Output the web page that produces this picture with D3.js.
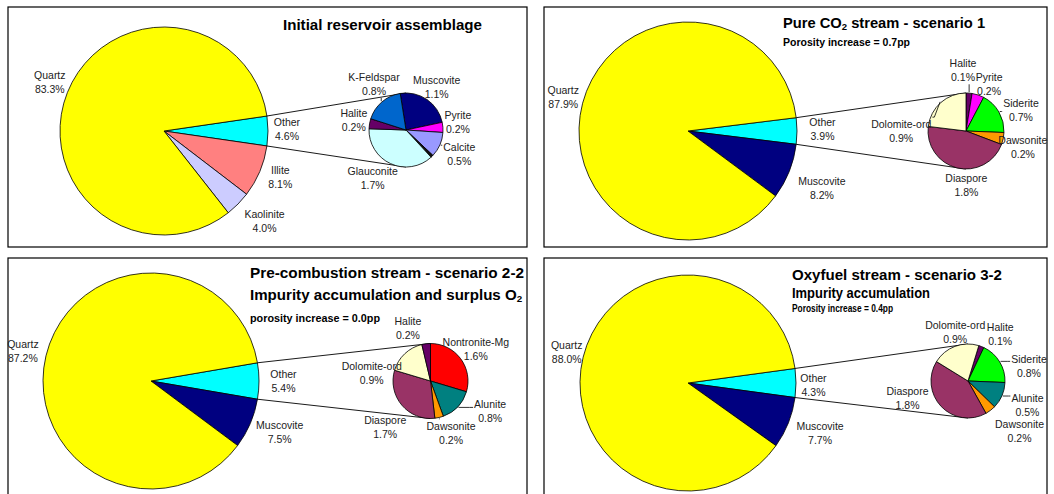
<!DOCTYPE html>
<html>
<head>
<meta charset="utf-8">
<script src="https://cdn.jsdelivr.net/npm/d3@7"></script>
<style>
  body { margin: 0; background: #fff; }
  svg { display: block; font-family: Arial, "Liberation Sans", sans-serif; }
</style>
</head>
<body>
<svg id="chart" width="1054" height="494"></svg>
<script>
// ---- data (percent of rock volume) ----
var initialMainNames = ['Other', 'Illite', 'Kaolinite', 'Quartz']
var initialMainValues = [4.6, 8.1, 4.0, 83.3]
var initialOtherNames = ['Muscovite', 'Pyrite', 'Calcite', '', 'Glauconite', 'Halite', 'K-Feldspar']
var initialOtherValues = [1.1, 0.2, 0.5, 0.05, 1.7, 0.2, 0.8]

var pureMainNames = ['Other', 'Muscovite', 'Quartz']
var pureMainValues = [3.9, 8.2, 87.9]
var pureOtherNames = ['Halite', 'Pyrite', 'Siderite', 'Dawsonite', 'Diaspore', 'Dolomite-ord']
var pureOtherValues = [0.1, 0.2, 0.7, 0.2, 1.8, 0.9]

var precombMainNames = ['Other', 'Muscovite', 'Quartz']
var precombMainValues = [5.4, 7.5, 87.2]
var precombOtherNames = ['Nontronite-Mg', 'Alunite', 'Dawsonite', 'Diaspore', 'Dolomite-ord', 'Halite']
var precombOtherValues = [1.6, 0.8, 0.2, 1.7, 0.9, 0.2]

var oxyMainNames = ['Other', 'Muscovite', 'Quartz']
var oxyMainValues = [4.3, 7.7, 88.0]
var oxyOtherNames = ['Halite', 'Siderite', 'Alunite', 'Dawsonite', 'Diaspore', 'Dolomite-ord']
var oxyOtherValues = [0.1, 0.8, 0.5, 0.2, 1.8, 0.9]

// ---- styles ----
var colors = {
  'Quartz': '#ffff00', 'Other': '#00ffff', 'Illite': '#ff8080', 'Kaolinite': '#ccccff',
  'Muscovite': '#000080', 'Pyrite': '#ff00ff', 'Calcite': '#9999ff', 'Glauconite': '#ccffff',
  'Halite': '#660066', 'K-Feldspar': '#0066cc', 'Siderite': '#00ff00', 'Dawsonite': '#ff9900',
  'Diaspore': '#993366', 'Dolomite-ord': '#ffffcc', 'Nontronite-Mg': '#ff0000', 'Alunite': '#008080',
  '': '#111111'
}

// ---- layout ----
var panels = [
  {
    box: [8, 7, 519, 240],
    main: {names: initialMainNames, values: initialMainValues, cx: 164, cy: 131, r: 104},
    sub: {names: initialOtherNames, values: initialOtherValues, cx: 406, cy: 130, r: 37, start: 351},
    titles: [{parts: ['Initial reservoir assemblage'], x: 283, y: 30, size: 15, len: 199}],
    nudge: {Quartz: [0, -3], Other: [0, -1.5], Illite: [3, -2], Kaolinite: [13, 3.5],
            Muscovite: [-1, 3], Pyrite: [-4, -4], Calcite: [2, 2], Glauconite: [-10, -3],
            Halite: [3, 0], 'K-Feldspar': [4.5, -3.5]},
    leaders: ['K-Feldspar', 'Calcite']
  },
  {
    box: [544, 7, 503, 240],
    main: {names: pureMainNames, values: pureMainValues, cx: 688, cy: 131, r: 109},
    sub: {names: pureOtherNames, values: pureOtherValues, cx: 966, cy: 131, r: 38, start: 0},
    titles: [
      {parts: ['Pure CO', '2', ' stream - scenario 1'], x: 783, y: 28, size: 14.7},
      {parts: ['Porosity increase = 0.7pp'], x: 783, y: 46, size: 10.5, len: 127}
    ],
    nudge: {Quartz: [-1, -1], Other: [6.5, -1.5], Muscovite: [15, 9.5],
            Halite: [-7.6, -3.7], Pyrite: [5, 7], Siderite: [5.6, 8], Dawsonite: [1, 5],
            Diaspore: [14, -1], 'Dolomite-ord': [-27, 43]},
    leaders: ['Halite', 'Dolomite-ord', 'Siderite']
  },
  {
    box: [8, 258, 519, 260],
    main: {names: precombMainNames, values: precombMainValues, cx: 151, cy: 381, r: 108},
    sub: {names: precombOtherNames, values: precombOtherValues, cx: 430.5, cy: 381, r: 37.5, start: 0},
    titles: [
      {parts: ['Pre-combustion stream - scenario 2-2'], x: 250, y: 278, size: 15.5, len: 274},
      {parts: ['Impurity accumulation and surplus O', '2'], x: 250, y: 300, size: 15.1},
      {parts: ['porosity increase = 0.0pp'], x: 250, y: 322, size: 10.5, len: 130}
    ],
    nudge: {Quartz: [-4.6, 0], Other: [5.5, 0.5], Muscovite: [12, 1],
            'Nontronite-Mg': [0, 2], Alunite: [18.5, -9], Dawsonite: [7.5, -2.5],
            Diaspore: [-2, 10], 'Dolomite-ord': [-20, 33.5], Halite: [-16, 3.5]},
    leaders: ['Alunite', 'Dawsonite']
  },
  {
    box: [544, 258, 503, 260],
    main: {names: oxyMainNames, values: oxyMainValues, cx: 688, cy: 383, r: 108},
    sub: {names: oxyOtherNames, values: oxyOtherValues, cx: 968, cy: 381, r: 37, start: 17},
    titles: [
      {parts: ['Oxyfuel stream - scenario 3-2'], x: 792, y: 280, size: 15, len: 210},
      {parts: ['Impurity accumulation'], x: 792, y: 298, size: 15, len: 138},
      {parts: ['Porosity increase = 0.4pp'], x: 792, y: 312, size: 10.5, len: 101}
    ],
    nudge: {Quartz: [2, 0], Other: [-1.5, 2], Muscovite: [14, 3],
            Halite: [12, 5], Siderite: [13, 14.5], Alunite: [8, 2], Dawsonite: [17.5, 6],
            Diaspore: [-20, -21.5], 'Dolomite-ord': [7, 3.5]},
    leaders: ['Siderite', 'Alunite']
  }
]

var svg = d3.select('#chart')
var fmt = d => d3.format('.1f')(d) + '%'
var rad = Math.PI / 180
var labelGap = 19

function pieArcs(spec, startAngle){
  var pie = d3.pie().sort(null).value(d => d.value)
    .startAngle(startAngle).endAngle(startAngle + 2 * Math.PI)
  return pie(spec.names.map((n, i) => ({name: n, value: spec.values[i]})))
}

function drawPie(g, spec, arcs, p){
  var arc = d3.arc().innerRadius(0).outerRadius(spec.r)
  var pg = g.append('g').attr('transform', `translate(${spec.cx},${spec.cy})`)
  pg.selectAll('path').data(arcs).join('path')
    .attr('d', arc)
    .attr('fill', d => colors[d.data.name])
    .attr('stroke', '#000')
    .attr('stroke-width', 0.8)

  arcs.filter(d => d.data.name).forEach(d => {
    var mid = (d.startAngle + d.endAngle) / 2
    var R = spec.r + labelGap
    var nd = p.nudge[d.data.name] || [0, 0]
    var lx = R * Math.sin(mid) + nd[0]
    var ly = -R * Math.cos(mid) + nd[1]
    var t = pg.append('text')
      .attr('text-anchor', 'middle')
      .attr('font-size', 10.5)
      .attr('fill', '#222')
    t.append('tspan').attr('x', lx).attr('y', ly - 3.2).text(d.data.name)
    t.append('tspan').attr('x', lx).attr('y', ly + 10.8).text(fmt(d.data.value))

    if (p.leaders.indexOf(d.data.name) > -1){
      var bb = t.node().getBBox()
      var ex = (spec.r + 1) * Math.sin(mid), ey = -(spec.r + 1) * Math.cos(mid)
      var qx = Math.max(bb.x - 1, Math.min(ex, bb.x + bb.width + 1))
      var qy = Math.max(bb.y - 1, Math.min(ey, bb.y + bb.height + 1))
      pg.append('path')
        .attr('d', `M${qx},${qy}L${qx + (ex - qx) * 0.25},${qy}L${ex},${ey}`)
        .attr('fill', 'none').attr('stroke', '#000').attr('stroke-width', 0.8)
    }
  })
}

panels.forEach(p => {
  var g = svg.append('g')
  g.append('rect')
    .attr('x', p.box[0]).attr('y', p.box[1])
    .attr('width', p.box[2]).attr('height', p.box[3])
    .attr('fill', '#fff').attr('stroke', '#000').attr('stroke-width', 1.2)

  // Other slice centered at 3 o'clock
  var total = d3.sum(p.main.values)
  var otherFrac = p.main.values[0] / total
  var mainArcs = pieArcs(p.main, Math.PI / 2 - otherFrac * Math.PI)
  var subArcs = pieArcs(p.sub, p.sub.start * rad)

  // connector lines from Other slice to secondary pie (drawn underneath)
  var o = mainArcs[0], m = p.main, s = p.sub
  g.append('line')
    .attr('x1', m.cx + m.r * Math.sin(o.startAngle)).attr('y1', m.cy - m.r * Math.cos(o.startAngle))
    .attr('x2', s.cx).attr('y2', s.cy - s.r)
    .attr('stroke', '#000').attr('stroke-width', 0.9)
  g.append('line')
    .attr('x1', m.cx + m.r * Math.sin(o.endAngle)).attr('y1', m.cy - m.r * Math.cos(o.endAngle))
    .attr('x2', s.cx).attr('y2', s.cy + s.r)
    .attr('stroke', '#000').attr('stroke-width', 0.9)

  drawPie(g, p.main, mainArcs, p)
  drawPie(g, p.sub, subArcs, p)

  p.titles.forEach(tt => {
    var t = g.append('text')
      .attr('x', tt.x).attr('y', tt.y)
      .attr('font-size', tt.size)
      .attr('font-weight', 'bold')
      .attr('fill', '#000')
    if (tt.len) t.attr('textLength', tt.len).attr('lengthAdjust', 'spacingAndGlyphs')
    tt.parts.forEach((part, i) => {
      var ts = t.append('tspan').text(part)
      if (i % 2 == 1) ts.attr('font-size', tt.size * 0.65).attr('dy', tt.size * 0.16)
      else if (i > 0) ts.attr('dy', -tt.size * 0.16)
    })
  })
})
</script>
</body>
</html>
